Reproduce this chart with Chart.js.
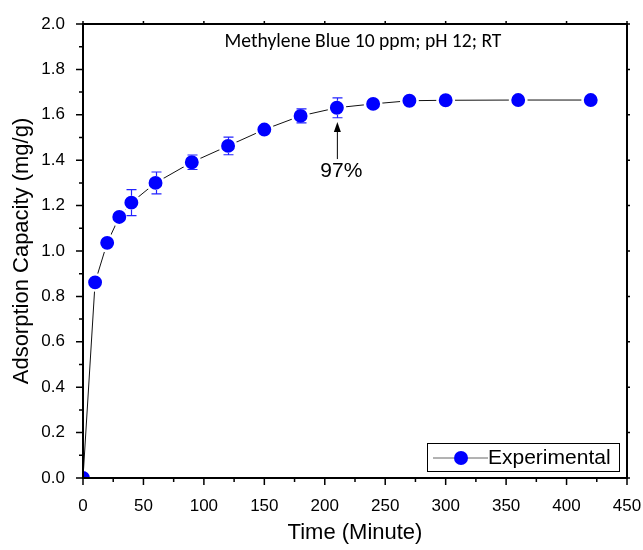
<!DOCTYPE html>
<html>
<head>
<meta charset="utf-8">
<title>Adsorption kinetics</title>
<script src="https://cdn.jsdelivr.net/npm/chart.js@4.4.1/dist/chart.umd.min.js"></script>
<style>
  html, body { margin: 0; padding: 0; background: #fff; }
  #kinetics { display: block; }
</style>
</head>
<body>
<canvas id="kinetics" width="643" height="550"></canvas>
<script>
// contact time (min) and adsorbed amount (mg/g)
const times = [0, 10, 20, 30, 40, 60, 90, 120, 150, 180, 210, 240, 270, 300, 360, 420];
const capacity = [0, 0.862, 1.036, 1.150, 1.213, 1.300, 1.391, 1.463, 1.535, 1.595, 1.631, 1.648, 1.662, 1.664, 1.665, 1.665];
const capacityErr = [0, 0.01, 0.01, 0.01, 0.057, 0.048, 0.032, 0.039, 0.015, 0.031, 0.044, 0.01, 0.01, 0.01, 0.005, 0.005];

const xTicks = [0, 50, 100, 150, 200, 250, 300, 350, 400, 450];
const yTicks = [0, 0.2, 0.4, 0.6, 0.8, 1.0, 1.2, 1.4, 1.6, 1.8, 2.0];

const conditionsText = 'Methylene Blue 10 ppm; pH 12; RT';
const removalText = '97%';
const removalArrow = { x: 210, from: 1.405, to: 1.568, labelY: 1.352 };

const BLUE = '#0000ff';
const ARIAL = '"Liberation Sans", Arial, sans-serif';
const MARKER = 7; // visible marker radius, px

// frame, ticks, error bars, arrow and legend drawn on top of the data
const origin = {
  id: 'origin',
  afterDatasetsDraw(chart) {
    const ctx = chart.ctx;
    const xs = chart.scales.x, ys = chart.scales.y;
    const a = chart.chartArea;

    // error bars, only the part sticking out of the marker
    ctx.save();
    ctx.strokeStyle = '#2323ff';
    ctx.lineWidth = 1.2;
    times.forEach((t, i) => {
      const e = capacityErr[i];
      if (!e) return;
      const px = Math.round(xs.getPixelForValue(t)) + 0.5;
      const py = ys.getPixelForValue(capacity[i]);
      const top = ys.getPixelForValue(capacity[i] + e);
      const bot = ys.getPixelForValue(capacity[i] - e);
      if (py - top <= MARKER) return;
      ctx.beginPath();
      ctx.moveTo(px, py - MARKER); ctx.lineTo(px, top);
      ctx.moveTo(px, py + MARKER); ctx.lineTo(px, bot);
      ctx.moveTo(px - 5, top); ctx.lineTo(px + 5, top);
      ctx.moveTo(px - 5, bot); ctx.lineTo(px + 5, bot);
      ctx.stroke();
    });
    ctx.restore();

    // axes box
    ctx.save();
    ctx.strokeStyle = '#000';
    ctx.lineWidth = 2;
    ctx.strokeRect(a.left, a.top, a.right - a.left, a.bottom - a.top);

    ctx.lineWidth = 1.5;
    ctx.beginPath();
    xTicks.forEach((v, i) => {
      const px = xs.getPixelForValue(v);
      ctx.moveTo(px, a.bottom); ctx.lineTo(px, a.bottom + 7);
      ctx.moveTo(px, a.top); ctx.lineTo(px, a.top - 3);
      if (i < xTicks.length - 1) {
        const mx = xs.getPixelForValue(v + 25);
        ctx.moveTo(mx, a.bottom); ctx.lineTo(mx, a.bottom + 4);
      }
    });
    yTicks.forEach((v, i) => {
      const py = ys.getPixelForValue(v);
      ctx.moveTo(a.left, py); ctx.lineTo(a.left - 7, py);
      ctx.moveTo(a.right, py); ctx.lineTo(a.right + 3, py);
      if (i < yTicks.length - 1) {
        const my = ys.getPixelForValue(v + 0.1);
        ctx.moveTo(a.left, my); ctx.lineTo(a.left - 4, my);
      }
    });
    ctx.stroke();

    // experimental conditions
    ctx.fillStyle = '#000';
    ctx.font = '19.6px Carlito, Lato, sans-serif';
    ctx.textAlign = 'center';
    ctx.textBaseline = 'middle';
    ctx.fillText(conditionsText, 363, a.top + 18.5);

    // removal arrow
    const ax = xs.getPixelForValue(removalArrow.x) + 0.5;
    const y0 = ys.getPixelForValue(removalArrow.from);
    const y1 = ys.getPixelForValue(removalArrow.to);
    ctx.lineWidth = 1;
    ctx.beginPath();
    ctx.moveTo(ax, y0); ctx.lineTo(ax, y1 + 8);
    ctx.stroke();
    ctx.beginPath();
    ctx.moveTo(ax, y1); ctx.lineTo(ax - 3.5, y1 + 10); ctx.lineTo(ax + 3.5, y1 + 10);
    ctx.closePath();
    ctx.fill();
    ctx.font = '21px ' + ARIAL;
    ctx.fillText(removalText, ax + 4, ys.getPixelForValue(removalArrow.labelY));

    // legend
    const ds = chart.data.datasets[0];
    const lx = 427, ly = 443, lw = 192, lh = 28;
    ctx.lineWidth = 1;
    ctx.strokeRect(lx + 0.5, ly + 0.5, lw, lh);
    const cy = ly + lh / 2 + 1;
    ctx.strokeStyle = '#666';
    ctx.beginPath();
    ctx.moveTo(lx + 6, cy); ctx.lineTo(lx + 27, cy);
    ctx.moveTo(lx + 40, cy); ctx.lineTo(lx + 61, cy);
    ctx.stroke();
    ctx.fillStyle = BLUE;
    ctx.beginPath();
    ctx.arc(lx + 34, cy, MARKER, 0, Math.PI * 2);
    ctx.fill();
    ctx.fillStyle = '#000';
    ctx.textAlign = 'left';
    ctx.fillText(ds.label, lx + 61, cy);
    ctx.restore();
  }
};

new Chart(document.getElementById('kinetics'), {
  type: 'line',
  data: {
    datasets: [{
      label: 'Experimental',
      data: times.map((t, i) => ({ x: t, y: capacity[i] })),
      borderColor: '#111',
      borderWidth: 1,
      backgroundColor: BLUE,
      pointBackgroundColor: BLUE,
      pointBorderColor: '#fff',
      pointBorderWidth: 2.5,
      pointRadius: 8.2,
      tension: 0
    }]
  },
  options: {
    responsive: false,
    animation: false,
    events: [],
    layout: { padding: { left: 0, top: 24, right: 16, bottom: 0 } },
    plugins: { legend: { display: false }, tooltip: { enabled: false } },
    scales: {
      x: {
        type: 'linear',
        min: 0, max: 450,
        afterFit(scale) {
          scale.height = 72;
          scale.paddingLeft = 0;
          scale.paddingRight = 0;
        },
        afterBuildTicks(scale) { scale.ticks = xTicks.map(v => ({ value: v })); },
        grid: { display: false },
        border: { display: false },
        ticks: { padding: 10, color: '#000', font: { family: ARIAL, size: 17 }, maxRotation: 0 },
        title: { display: true, text: 'Time (Minute)', color: '#000', font: { family: ARIAL, size: 22 }, padding: { top: 0, bottom: 4 } }
      },
      y: {
        type: 'linear',
        min: 0, max: 2,
        afterFit(scale) {
          scale.width = 83;
          scale.paddingTop = 0;
          scale.paddingBottom = 0;
        },
        afterBuildTicks(scale) { scale.ticks = yTicks.map(v => ({ value: v })); },
        grid: { display: false },
        border: { display: false },
        ticks: { padding: 10, color: '#000', font: { family: ARIAL, size: 17 }, callback: v => v.toFixed(1) },
        title: { display: true, text: 'Adsorption Capacity (mg/g)', color: '#000', font: { family: ARIAL, size: 22 }, padding: { top: 9, bottom: 0 } }
      }
    }
  },
  plugins: [origin]
});
</script>
</body>
</html>
